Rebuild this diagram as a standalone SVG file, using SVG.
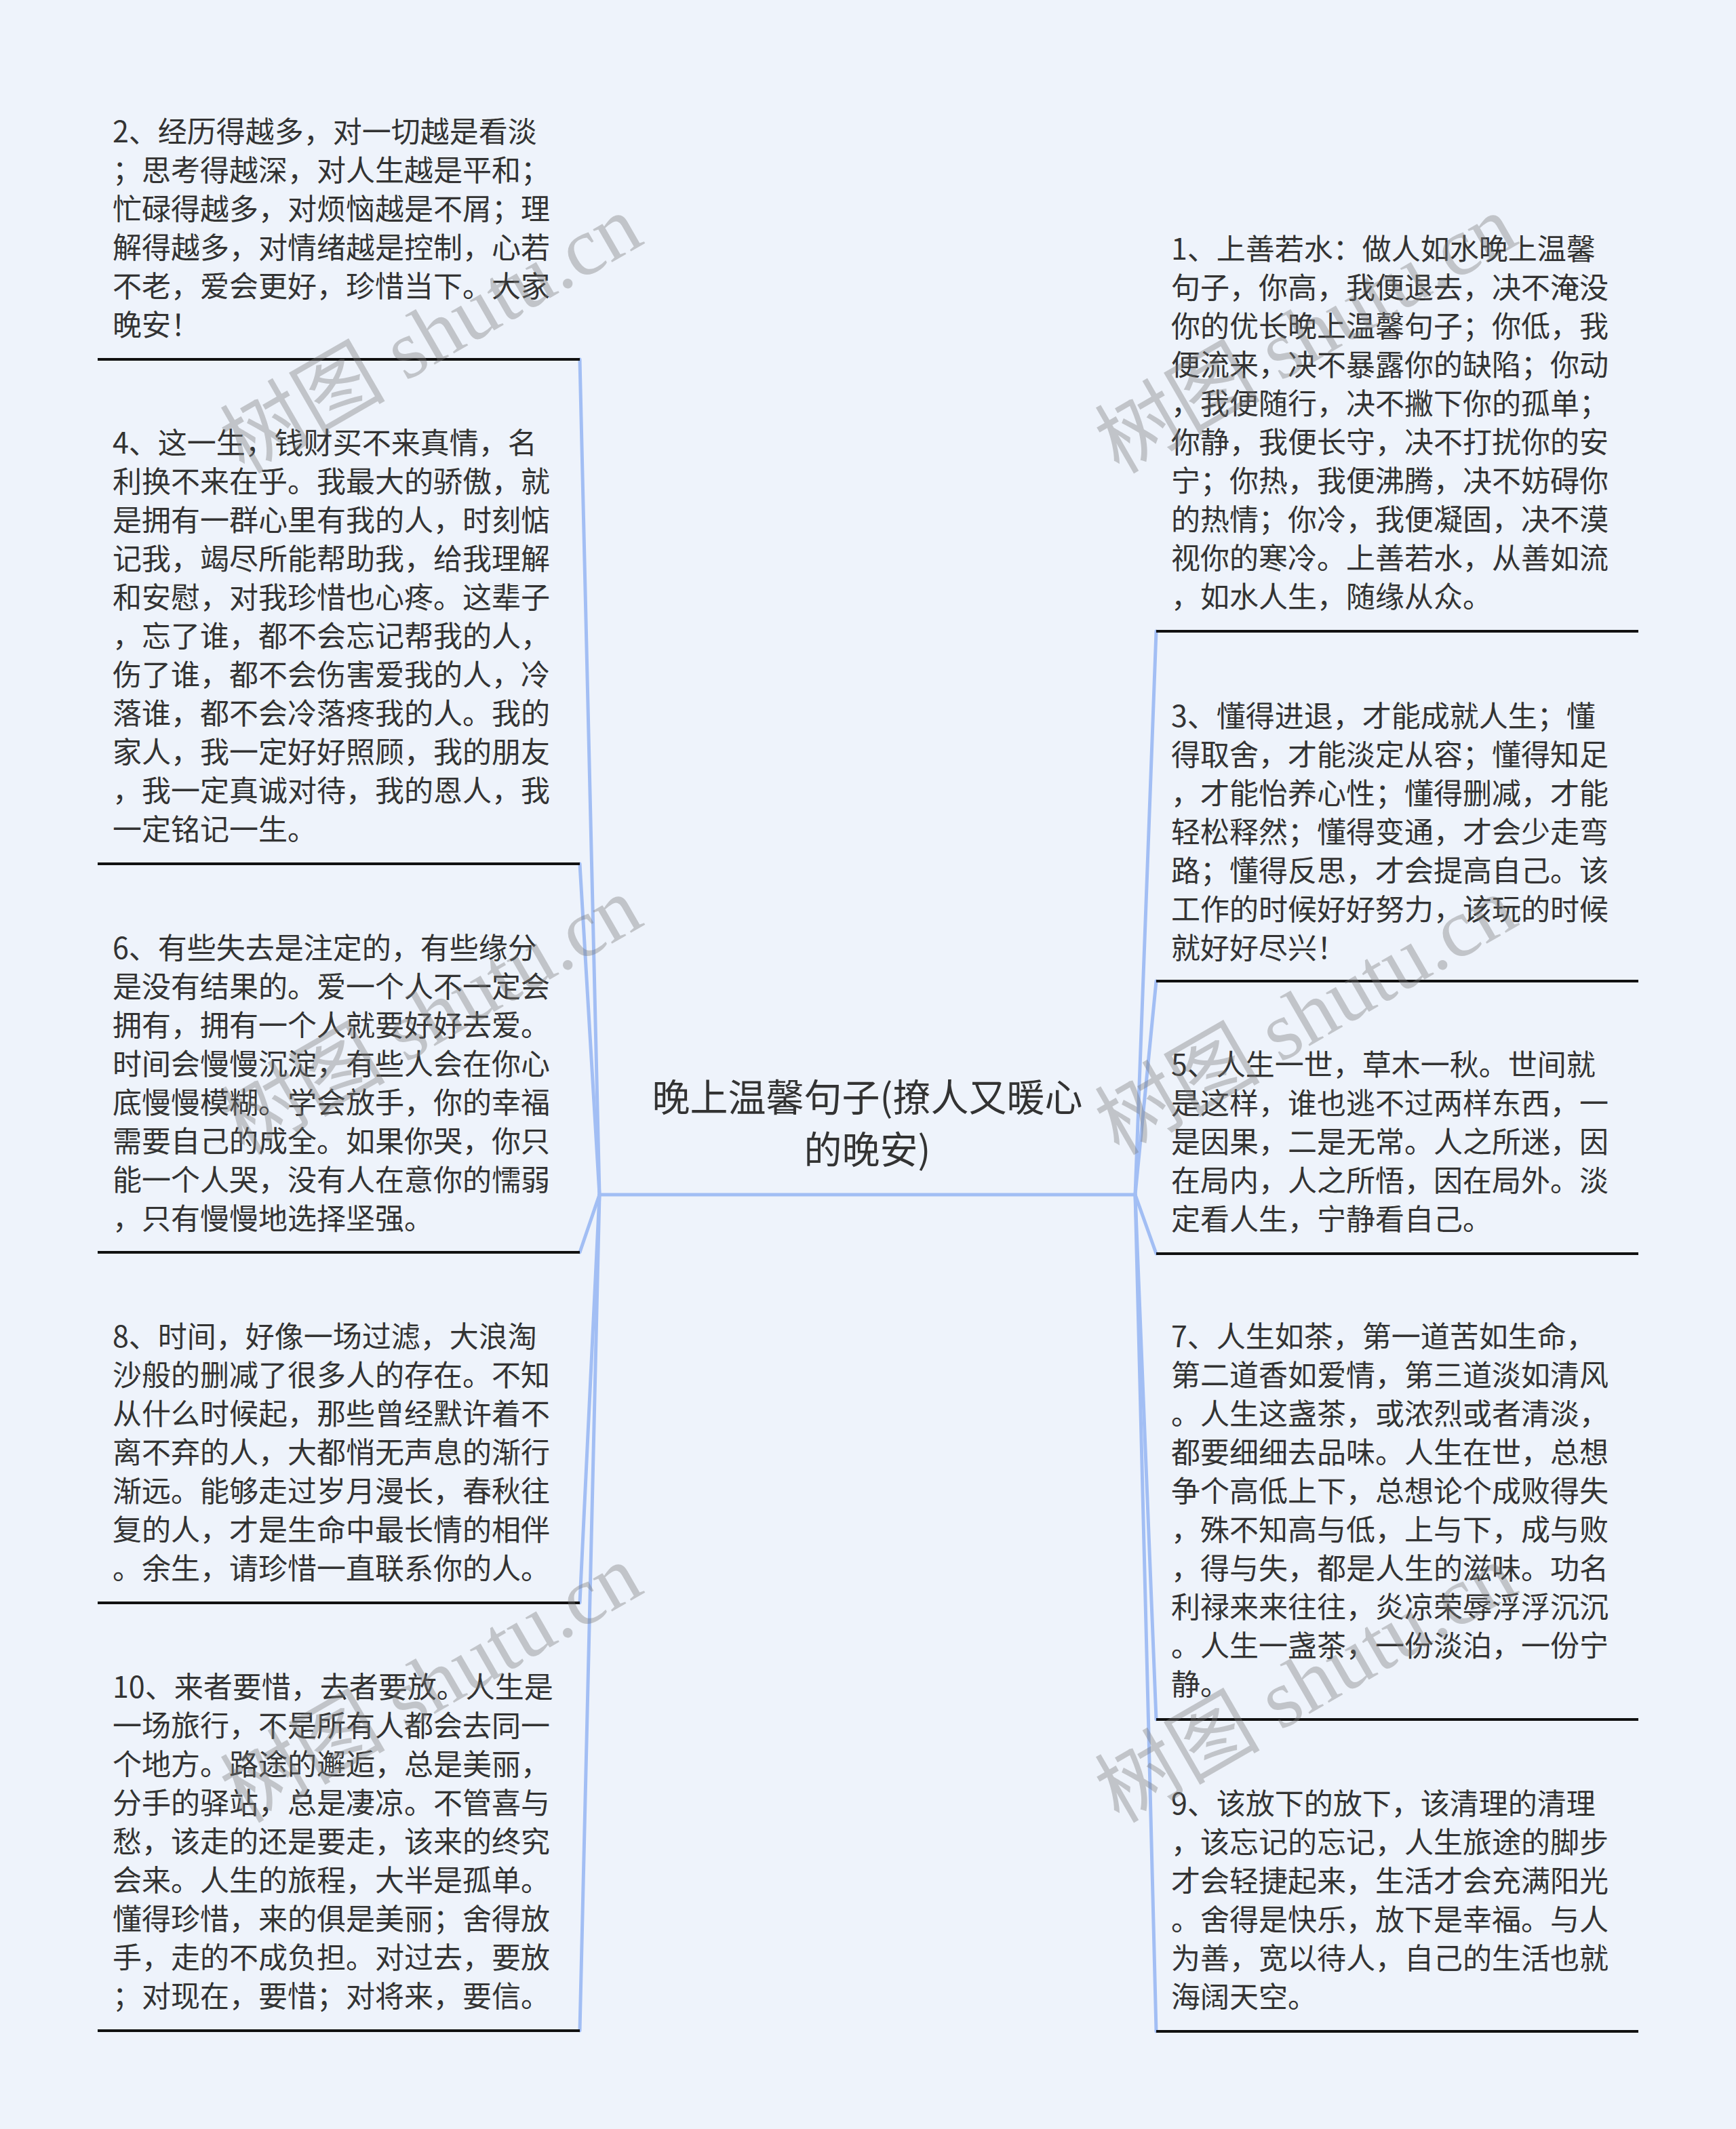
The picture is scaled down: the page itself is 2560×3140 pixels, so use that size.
<svg xmlns="http://www.w3.org/2000/svg" width="2560" height="3140" viewBox="0 0 2560 3140">
<style>
.bg{fill:#eef3fb}
.t{font-family:"Noto Sans CJK SC","Noto Sans",sans-serif;font-size:43px;fill:#333333}
.c{font-family:"Noto Sans CJK SC","Noto Sans",sans-serif;font-size:56px;fill:#333333;text-anchor:middle}
.ul{stroke:#111111;stroke-width:4;fill:none}
.cn{stroke:#a2bef4;stroke-width:5;fill:none;stroke-linecap:round}
.wm{font-family:"Liberation Serif","Noto Sans CJK SC",serif;font-size:122px;fill:#7a7a7a;fill-opacity:0.38}
</style>
<rect class="bg" x="0" y="0" width="2560" height="3140"/>

<g id="connectors">
<line class="cn" x1="884" y1="1762" x2="1674" y2="1762"/>
<line class="cn" x1="884" y1="1762" x2="855" y2="530"/>
<line class="cn" x1="884" y1="1762" x2="855" y2="1274"/>
<line class="cn" x1="884" y1="1762" x2="855" y2="1847"/>
<line class="cn" x1="884" y1="1762" x2="855" y2="2364"/>
<line class="cn" x1="884" y1="1762" x2="855" y2="2995"/>
<line class="cn" x1="1674" y1="1762" x2="1705" y2="931"/>
<line class="cn" x1="1674" y1="1762" x2="1705" y2="1447"/>
<line class="cn" x1="1674" y1="1762" x2="1705" y2="1849"/>
<line class="cn" x1="1674" y1="1762" x2="1705" y2="2536"/>
<line class="cn" x1="1674" y1="1762" x2="1705" y2="2996"/>
</g>

<g id="center">
<text class="c" x="1279" y="1639">晚上温馨句子(撩人又暖心</text>
<text class="c" x="1279" y="1716">的晚安)</text>
</g>

<g id="node2">
<text class="t" x="166" y="210">
<tspan x="166">2、经历得越多，对一切越是看淡</tspan>
<tspan x="166" dy="57">；思考得越深，对人生越是平和；</tspan>
<tspan x="166" dy="57">忙碌得越多，对烦恼越是不屑；理</tspan>
<tspan x="166" dy="57">解得越多，对情绪越是控制，心若</tspan>
<tspan x="166" dy="57">不老，爱会更好，珍惜当下。大家</tspan>
<tspan x="166" dy="57">晚安！</tspan>
</text>
<line class="ul" x1="144" y1="530" x2="855" y2="530"/>
</g>

<g id="node4">
<text class="t" x="166" y="669">
<tspan x="166">4、这一生，钱财买不来真情，名</tspan>
<tspan x="166" dy="57">利换不来在乎。我最大的骄傲，就</tspan>
<tspan x="166" dy="57">是拥有一群心里有我的人，时刻惦</tspan>
<tspan x="166" dy="57">记我，竭尽所能帮助我，给我理解</tspan>
<tspan x="166" dy="57">和安慰，对我珍惜也心疼。这辈子</tspan>
<tspan x="166" dy="57">，忘了谁，都不会忘记帮我的人，</tspan>
<tspan x="166" dy="57">伤了谁，都不会伤害爱我的人，冷</tspan>
<tspan x="166" dy="57">落谁，都不会冷落疼我的人。我的</tspan>
<tspan x="166" dy="57">家人，我一定好好照顾，我的朋友</tspan>
<tspan x="166" dy="57">，我一定真诚对待，我的恩人，我</tspan>
<tspan x="166" dy="57">一定铭记一生。</tspan>
</text>
<line class="ul" x1="144" y1="1274" x2="855" y2="1274"/>
</g>

<g id="node6">
<text class="t" x="166" y="1414">
<tspan x="166">6、有些失去是注定的，有些缘分</tspan>
<tspan x="166" dy="57">是没有结果的。爱一个人不一定会</tspan>
<tspan x="166" dy="57">拥有，拥有一个人就要好好去爱。</tspan>
<tspan x="166" dy="57">时间会慢慢沉淀，有些人会在你心</tspan>
<tspan x="166" dy="57">底慢慢模糊。学会放手，你的幸福</tspan>
<tspan x="166" dy="57">需要自己的成全。如果你哭，你只</tspan>
<tspan x="166" dy="57">能一个人哭，没有人在意你的懦弱</tspan>
<tspan x="166" dy="57">，只有慢慢地选择坚强。</tspan>
</text>
<line class="ul" x1="144" y1="1847" x2="855" y2="1847"/>
</g>

<g id="node8">
<text class="t" x="166" y="1987">
<tspan x="166">8、时间，好像一场过滤，大浪淘</tspan>
<tspan x="166" dy="57">沙般的删减了很多人的存在。不知</tspan>
<tspan x="166" dy="57">从什么时候起，那些曾经默许着不</tspan>
<tspan x="166" dy="57">离不弃的人，大都悄无声息的渐行</tspan>
<tspan x="166" dy="57">渐远。能够走过岁月漫长，春秋往</tspan>
<tspan x="166" dy="57">复的人，才是生命中最长情的相伴</tspan>
<tspan x="166" dy="57">。余生，请珍惜一直联系你的人。</tspan>
</text>
<line class="ul" x1="144" y1="2364" x2="855" y2="2364"/>
</g>

<g id="node10">
<text class="t" x="166" y="2504">
<tspan x="166">10、来者要惜，去者要放。人生是</tspan>
<tspan x="166" dy="57">一场旅行，不是所有人都会去同一</tspan>
<tspan x="166" dy="57">个地方。路途的邂逅，总是美丽，</tspan>
<tspan x="166" dy="57">分手的驿站，总是凄凉。不管喜与</tspan>
<tspan x="166" dy="57">愁，该走的还是要走，该来的终究</tspan>
<tspan x="166" dy="57">会来。人生的旅程，大半是孤单。</tspan>
<tspan x="166" dy="57">懂得珍惜，来的俱是美丽；舍得放</tspan>
<tspan x="166" dy="57">手，走的不成负担。对过去，要放</tspan>
<tspan x="166" dy="57">；对现在，要惜；对将来，要信。</tspan>
</text>
<line class="ul" x1="144" y1="2995" x2="855" y2="2995"/>
</g>

<g id="node1">
<text class="t" x="1727" y="383">
<tspan x="1727">1、上善若水：做人如水晚上温馨</tspan>
<tspan x="1727" dy="57">句子，你高，我便退去，决不淹没</tspan>
<tspan x="1727" dy="57">你的优长晚上温馨句子；你低，我</tspan>
<tspan x="1727" dy="57">便流来，决不暴露你的缺陷；你动</tspan>
<tspan x="1727" dy="57">，我便随行，决不撇下你的孤单；</tspan>
<tspan x="1727" dy="57">你静，我便长守，决不打扰你的安</tspan>
<tspan x="1727" dy="57">宁；你热，我便沸腾，决不妨碍你</tspan>
<tspan x="1727" dy="57">的热情；你冷，我便凝固，决不漠</tspan>
<tspan x="1727" dy="57">视你的寒冷。上善若水，从善如流</tspan>
<tspan x="1727" dy="57">，如水人生，随缘从众。</tspan>
</text>
<line class="ul" x1="1705" y1="931" x2="2416" y2="931"/>
</g>

<g id="node3">
<text class="t" x="1727" y="1072">
<tspan x="1727">3、懂得进退，才能成就人生；懂</tspan>
<tspan x="1727" dy="57">得取舍，才能淡定从容；懂得知足</tspan>
<tspan x="1727" dy="57">，才能怡养心性；懂得删减，才能</tspan>
<tspan x="1727" dy="57">轻松释然；懂得变通，才会少走弯</tspan>
<tspan x="1727" dy="57">路；懂得反思，才会提高自己。该</tspan>
<tspan x="1727" dy="57">工作的时候好好努力，该玩的时候</tspan>
<tspan x="1727" dy="57">就好好尽兴！</tspan>
</text>
<line class="ul" x1="1705" y1="1447" x2="2416" y2="1447"/>
</g>

<g id="node5">
<text class="t" x="1727" y="1586">
<tspan x="1727">5、人生一世，草木一秋。世间就</tspan>
<tspan x="1727" dy="57">是这样，谁也逃不过两样东西，一</tspan>
<tspan x="1727" dy="57">是因果，二是无常。人之所迷，因</tspan>
<tspan x="1727" dy="57">在局内，人之所悟，因在局外。淡</tspan>
<tspan x="1727" dy="57">定看人生，宁静看自己。</tspan>
</text>
<line class="ul" x1="1705" y1="1849" x2="2416" y2="1849"/>
</g>

<g id="node7">
<text class="t" x="1727" y="1987">
<tspan x="1727">7、人生如茶，第一道苦如生命，</tspan>
<tspan x="1727" dy="57">第二道香如爱情，第三道淡如清风</tspan>
<tspan x="1727" dy="57">。人生这盏茶，或浓烈或者清淡，</tspan>
<tspan x="1727" dy="57">都要细细去品味。人生在世，总想</tspan>
<tspan x="1727" dy="57">争个高低上下，总想论个成败得失</tspan>
<tspan x="1727" dy="57">，殊不知高与低，上与下，成与败</tspan>
<tspan x="1727" dy="57">，得与失，都是人生的滋味。功名</tspan>
<tspan x="1727" dy="57">利禄来来往往，炎凉荣辱浮浮沉沉</tspan>
<tspan x="1727" dy="57">。人生一盏茶，一份淡泊，一份宁</tspan>
<tspan x="1727" dy="57">静。</tspan>
</text>
<line class="ul" x1="1705" y1="2536" x2="2416" y2="2536"/>
</g>

<g id="node9">
<text class="t" x="1727" y="2676">
<tspan x="1727">9、该放下的放下，该清理的清理</tspan>
<tspan x="1727" dy="57">，该忘记的忘记，人生旅途的脚步</tspan>
<tspan x="1727" dy="57">才会轻捷起来，生活才会充满阳光</tspan>
<tspan x="1727" dy="57">。舍得是快乐，放下是幸福。与人</tspan>
<tspan x="1727" dy="57">为善，宽以待人，自己的生活也就</tspan>
<tspan x="1727" dy="57">海阔天空。</tspan>
</text>
<line class="ul" x1="1705" y1="2996" x2="2416" y2="2996"/>
</g>

<g id="watermarks">
<text class="wm" transform="translate(360,700) rotate(-30)">树图 shutu.cn</text>
<text class="wm" transform="translate(360,1705) rotate(-30)">树图 shutu.cn</text>
<text class="wm" transform="translate(360,2690) rotate(-30)">树图 shutu.cn</text>
<text class="wm" transform="translate(1650,700) rotate(-30)">树图 shutu.cn</text>
<text class="wm" transform="translate(1650,1705) rotate(-30)">树图 shutu.cn</text>
<text class="wm" transform="translate(1650,2690) rotate(-30)">树图 shutu.cn</text>
</g>
</svg>
